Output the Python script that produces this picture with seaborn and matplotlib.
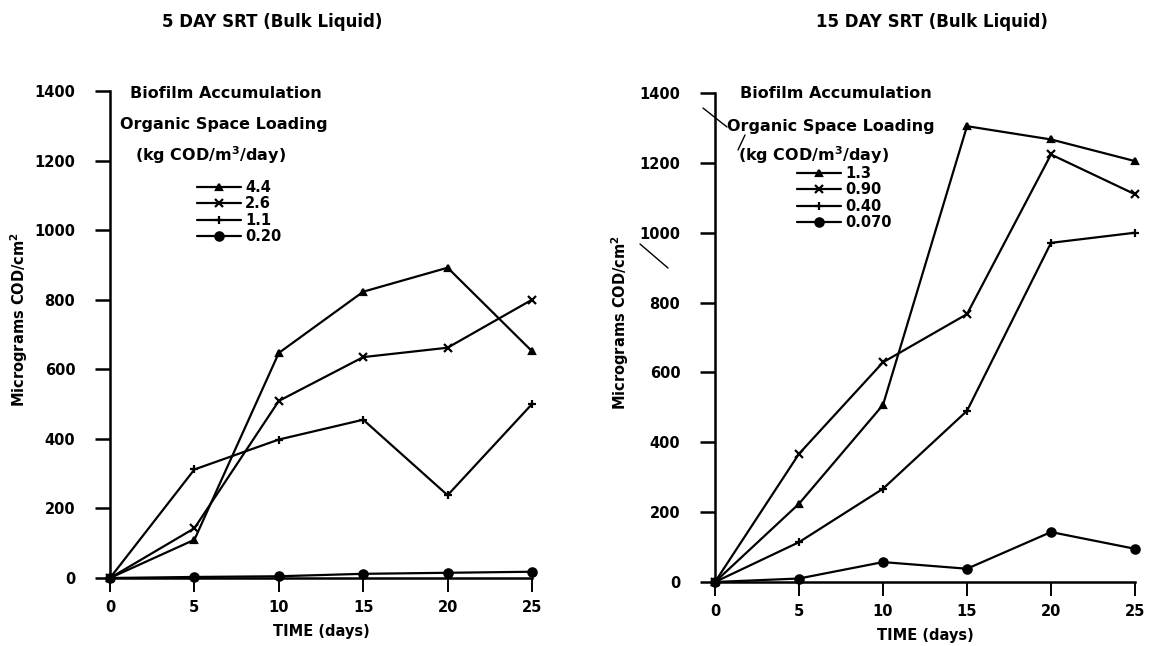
import matplotlib
matplotlib.use("Agg")
import matplotlib.pyplot as plt
from matplotlib.lines import Line2D
import seaborn as sns
import pandas as pd

# Sampling days
days = [0, 5, 10, 15, 20, 25]

# 5-day SRT: biofilm COD (micrograms/cm2) per organic space loading
loadings_5 = ["4.4", "2.6", "1.1", "0.20"]
srt5_44 = [0, 110, 647, 823, 892, 652]
srt5_26 = [0, 143, 509, 635, 662, 800]
srt5_11 = [0, 312, 398, 455, 238, 500]
srt5_020 = [0, 3, 5, 12, 15, 18]

# 15-day SRT
loadings_15 = ["1.3", "0.90", "0.40", "0.070"]
srt15_13 = [0, 224, 507, 1305, 1267, 1205]
srt15_090 = [0, 367, 629, 767, 1224, 1110]
srt15_040 = [0, 114, 267, 490, 971, 1000]
srt15_0070 = [0, 10, 57, 38, 143, 95]

yticks = [0, 200, 400, 600, 800, 1000, 1200, 1400]
xticks = [0, 5, 10, 15, 20, 25]

sns.set_style("white")
plt.rcParams["font.family"] = ["DejaVu Sans"]
plt.rcParams["font.weight"] = "bold"
plt.rcParams["mathtext.default"] = "bf"
plt.rcParams["text.color"] = "black"
plt.rcParams["axes.labelcolor"] = "black"

W, H = 1151, 646
fig = plt.figure(figsize=(W / 100, H / 100), dpi=100)


def px_axes(x0, x1, y_top, y_bot):
    return fig.add_axes([x0 / W, 1 - y_bot / H, (x1 - x0) / W, (y_bot - y_top) / H])


ax1 = px_axes(110, 532, 91, 578)
ax2 = px_axes(715, 1135, 93, 582)

markers = ["^", "x", "+", "o"]
msizes = [5, 6, 6, 6]


def draw_panel(ax, series, labels):
    frames = []
    for lab, vals in zip(labels, series):
        frames.append(pd.DataFrame({"day": days, "cod": vals, "loading": lab}))
    df = pd.concat(frames, ignore_index=True)
    for lab, mk, ms in zip(labels, markers, msizes):
        sns.lineplot(data=df[df["loading"] == lab], x="day", y="cod", ax=ax,
                     color="black", linewidth=1.6, marker=mk, markersize=ms,
                     markeredgewidth=1.6, markeredgecolor="black",
                     clip_on=False, legend=False, zorder=3)
    ax.set_xlim(0, 25)
    ax.set_ylim(0, 1400)
    ax.set_xticks(xticks)
    ax.set_yticks(yticks)
    for side in ("top", "right"):
        ax.spines[side].set_visible(False)
    for side in ("left", "bottom"):
        ax.spines[side].set_linewidth(1.8)
        ax.spines[side].set_color("black")
    ax.tick_params(axis="y", which="major", left=True, direction="out",
                   length=11, width=1.8, pad=14, labelsize=10.5,
                   color="black", labelcolor="black")
    ax.tick_params(axis="x", which="major", bottom=True, direction="out",
                   length=10, width=1.4, pad=6, labelsize=10.5,
                   color="black", labelcolor="black")
    ax.set_xlabel("TIME (days)", fontsize=10.5, fontweight="bold")
    ax.xaxis.set_label_coords(0.5, -0.095)
    ax.set_ylabel("Micrograms COD/cm$^2$", fontsize=10.5, fontweight="bold")
    ax.set_facecolor("white")


draw_panel(ax1, [srt5_44, srt5_26, srt5_11, srt5_020], loadings_5)
draw_panel(ax2, [srt15_13, srt15_090, srt15_040, srt15_0070], loadings_15)
ax1.yaxis.set_label_coords(-0.19, 0.53)
ax2.yaxis.set_label_coords(-0.2, 0.53)


def ftext(x, y, s, fs=11.5, **kw):
    fig.text(x / W, 1 - y / H, s, fontsize=fs, fontweight="bold", va="center",
             color="black", **kw)


# Panel titles
ftext(272, 22, "5 DAY SRT (Bulk Liquid)", fs=12, ha="center")
ftext(932, 22, "15 DAY SRT (Bulk Liquid)", fs=12, ha="center")


# Legend headers and entries
def legend_block(ax, labels, x_head, y_head, x_leg, y_leg):
    ftext(x_head[0], y_head[0], "Biofilm Accumulation", ha="left")
    ftext(x_head[1], y_head[1], "Organic Space Loading", ha="left")
    ftext(x_head[2], y_head[2], "(kg COD/m$^3$/day)", ha="left")
    handles = [Line2D([0], [0], color="black", linewidth=1.6, marker=mk,
                      markersize=ms, markeredgewidth=1.6)
               for mk, ms in zip(markers, msizes)]
    leg = ax.legend(handles, labels, loc="upper left",
                    bbox_to_anchor=(x_leg / W, 1 - y_leg / H),
                    bbox_transform=fig.transFigure, frameon=False,
                    handlelength=3.0, handletextpad=0.3, labelspacing=0.1,
                    borderpad=0, borderaxespad=0,
                    prop={"size": 10.5, "weight": "bold"})
    for t in leg.get_texts():
        t.set_color("black")


legend_block(ax1, loadings_5, (130, 120, 135), (93, 125, 155), 197, 180)
legend_block(ax2, loadings_15, (740, 727, 738), (93, 127, 155), 797, 166)

# Pen marks pointing to the loading header on the 15-day panel
for (xa, ya), (xb, yb) in [((703, 108), (727, 127)),
                           ((745, 135), (738, 150)),
                           ((640, 244), (668, 268))]:
    fig.add_artist(Line2D([xa / W, xb / W], [1 - ya / H, 1 - yb / H],
                          color="black", linewidth=1.0,
                          transform=fig.transFigure))

fig.savefig("out.png", dpi=100, facecolor="white")
